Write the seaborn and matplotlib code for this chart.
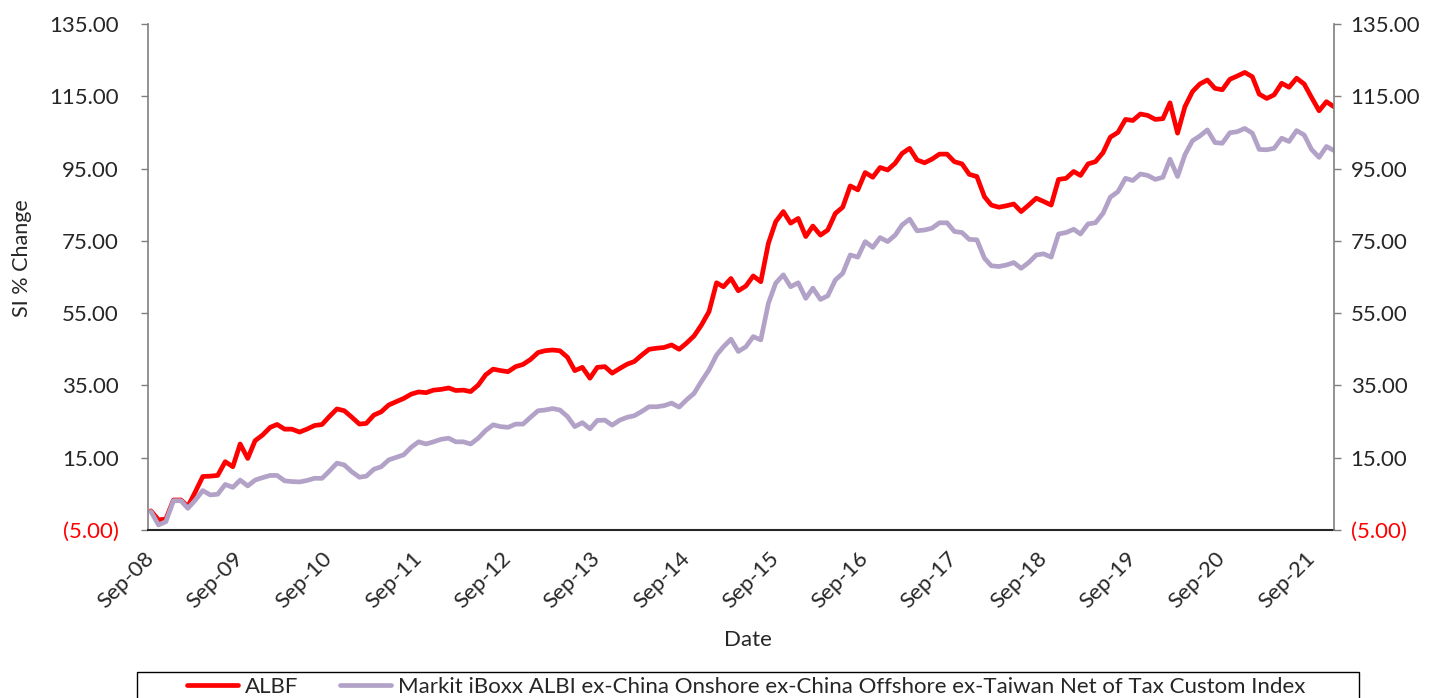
import numpy as np
import pandas as pd
import matplotlib
matplotlib.use("Agg")
import matplotlib.pyplot as plt
import seaborn as sns
from matplotlib.lines import Line2D
from matplotlib.patches import Rectangle

# ---------------- data ----------------
albf = [
    0.3, -2.2, -2.0, 3.3, 3.3, 1.5, 5.6, 9.8, 9.9, 10.1, 13.9, 12.5, 18.8, 14.8, 19.7, 21.3,
    23.4, 24.2, 22.9, 22.9, 22.1, 22.9, 23.9, 24.2, 26.4, 28.5,
    28.0, 26.2, 24.3, 24.5, 26.8, 27.7, 29.6, 30.5, 31.4, 32.6, 33.2, 33.0, 33.7, 33.9, 34.3,
    33.6, 33.7, 33.3, 35.1, 37.9, 39.5, 39.1, 38.8, 40.2, 40.8, 42.2, 44.1,
    44.6, 44.8, 44.6, 42.8, 39.1, 40.0, 37.0, 40.0, 40.2, 38.4, 39.7, 40.9, 41.6, 43.4, 45.0,
    45.3, 45.5, 46.2, 45.0, 46.7, 48.7, 51.7, 55.4, 63.4, 62.3, 64.6, 61.2,
    62.5, 65.3, 63.7, 74.3, 80.3, 83.1, 79.9, 81.2, 76.2, 79.1, 76.6, 78.0, 82.6, 84.3, 90.2,
    89.1, 93.9, 92.6, 95.3, 94.6, 96.5, 99.2, 100.6, 97.4, 96.6, 97.6, 99.0,
    99.0, 96.9, 96.3, 93.4, 92.8, 87.2, 84.9, 84.3, 84.7, 85.2, 83.1, 84.9, 86.8, 85.9, 84.9,
    92.0, 92.3, 94.2, 93.1, 96.3, 96.9, 99.4, 103.7, 105.0, 108.6, 108.3, 110.1,
    109.7, 108.6, 108.8, 113.2, 104.8, 112.1, 116.3, 118.4, 119.5, 117.2, 116.8, 119.7, 120.6,
    121.6, 120.4, 115.6, 114.4, 115.4, 118.6, 117.5, 120.0, 118.4, 114.7, 111.0, 113.5, 112.1,
]
markit = [
    0.1, -3.6, -2.7, 3.1, 3.1, 1.0, 3.3, 5.9, 4.7, 4.9, 7.6, 6.8, 8.8, 7.2, 8.8, 9.5,
    10.1, 10.1, 8.6, 8.4, 8.3, 8.7, 9.3, 9.3, 11.3, 13.5,
    13.0, 11.1, 9.6, 9.9, 11.8, 12.5, 14.4, 15.1, 15.8, 17.9, 19.4, 18.8, 19.4, 20.1, 20.4,
    19.4, 19.4, 18.8, 20.4, 22.5, 24.1, 23.6, 23.4, 24.3, 24.3, 26.2, 28.0,
    28.2, 28.6, 28.2, 26.4, 23.6, 24.7, 23.0, 25.3, 25.4, 24.0, 25.4, 26.2, 26.6, 27.8, 29.1,
    29.1, 29.4, 30.1, 29.0, 31.0, 32.8, 36.1, 39.3, 43.4, 45.7, 47.8, 44.4,
    45.7, 48.5, 47.6, 57.7, 63.3, 65.6, 62.3, 63.4, 59.1, 61.9, 58.8, 59.8, 64.2, 66.0, 71.1,
    70.5, 74.8, 73.2, 75.9, 74.8, 76.6, 79.4, 81.0, 77.8, 78.0, 78.5, 80.0,
    80.0, 77.6, 77.3, 75.4, 75.3, 70.2, 68.1, 67.9, 68.3, 69.0, 67.4, 69.0, 71.1, 71.4, 70.5,
    76.9, 77.3, 78.2, 76.9, 79.7, 80.0, 82.6, 87.1, 88.6, 92.3, 91.7, 93.5,
    93.1, 92.0, 92.6, 97.6, 92.8, 98.8, 102.7, 104.0, 105.7, 102.2, 102.0, 104.9, 105.2,
    106.1, 104.8, 100.3, 100.2, 100.6, 103.4, 102.5, 105.5, 104.3, 100.3, 98.1, 101.1, 100.0,
]
series_names = [
    "ALBF",
    "Markit iBoxx ALBI ex-China Onshore ex-China Offshore ex-Taiwan Net of Tax Custom Index",
]
months = pd.date_range("2008-09-30", periods=len(albf), freq="ME")
y_ticks = [-5, 15, 35, 55, 75, 95, 115, 135]
y_label = "SI % Change"
x_label = "Date"

# ---------------- styling ----------------
sns.set_style("white")
plt.rcParams["font.family"] = ["Lato", "DejaVu Sans"]
FS = 16
colors = ["#FF0000", "#B3A2C7"]

df = pd.DataFrame({
    "Date": np.concatenate([months, months]),
    "value": albf + markit,
    "series": np.repeat(series_names, len(albf)),
})

W, H = 1431, 698
fig = plt.figure(figsize=(W / 100, H / 100), dpi=100)
L, R, T, B = 148, 1334, 24, 530
ax = fig.add_axes([L / W, 1 - B / H, (R - L) / W, (B - T) / H])

sns.lineplot(data=df, x="Date", y="value", hue="series", hue_order=series_names,
             palette=colors, linewidth=3.4, ax=ax, legend=False)

ax.set_ylim(-5, 135)
ax.set_xlim(months[0] - pd.Timedelta(days=12), months[-1])

def fmt(v):
    return f"({abs(v):.2f})" if v < 0 else f"{v:.2f}"

ylabels = [fmt(v) for v in y_ticks]
ax.set_yticks(y_ticks)
ax.set_yticklabels(ylabels, fontsize=FS)
ax.set_xticks(months[::12])
ax.set_xticklabels([d.strftime("%b-%y") for d in months[::12]], fontsize=FS,
                   rotation=45, ha="right", va="center", rotation_mode="anchor")
ax.tick_params(axis="x", length=0, pad=18)
ax.tick_params(axis="y", length=5, width=1, color="#7F7F7F", direction="out", pad=16)
ax.set_xlabel("")
ax.set_ylabel("")

ax2 = ax.twinx()
ax2.set_ylim(-5, 135)
ax2.set_yticks(y_ticks)
ax2.set_yticklabels(ylabels, fontsize=FS)
ax2.tick_params(axis="y", length=5, width=1, color="#7F7F7F", direction="out", pad=7)

for a in (ax, ax2):
    for lab in a.get_yticklabels():
        if lab.get_text().startswith("("):
            lab.set_color("#FF0000")

ax.spines["top"].set_visible(False)
ax.spines["right"].set_visible(False)
ax.spines["left"].set_color("#7F7F7F")
ax.spines["left"].set_linewidth(1.2)
ax.spines["bottom"].set_color("#262626")
ax.spines["bottom"].set_linewidth(1.5)
for s in ("top", "left", "bottom"):
    ax2.spines[s].set_visible(False)
ax2.spines["right"].set_color("#7F7F7F")
ax2.spines["right"].set_linewidth(1.2)
ax.grid(False)
ax2.grid(False)

fig.text(22 / W, 1 - 258 / H, y_label, rotation=90, ha="center", va="center", fontsize=FS - 0.5)
fig.text(748 / W, 1 - 640 / H, x_label, ha="center", va="center", fontsize=FS)

# legend: frame spans 137..1359 px, top at 672 px (cut by figure bottom)
fig.patches.append(Rectangle((137 / W, 1 - 712 / H), (1359 - 137) / W, 40 / H,
                             transform=fig.transFigure, facecolor="white",
                             edgecolor="black", linewidth=1.0, zorder=5))
handles = [Line2D([0], [0], color=c, lw=3.4) for c in colors]
leg = fig.legend(handles, series_names, loc="center", bbox_to_anchor=(746 / W, 1 - 687 / H),
                 ncol=2, frameon=False, fontsize=FS,
                 handlelength=2.3, columnspacing=1.9, borderpad=0.0, handletextpad=0.3,
                 borderaxespad=0)
leg.set_zorder(6)

fig.savefig("out.png", dpi=100)
